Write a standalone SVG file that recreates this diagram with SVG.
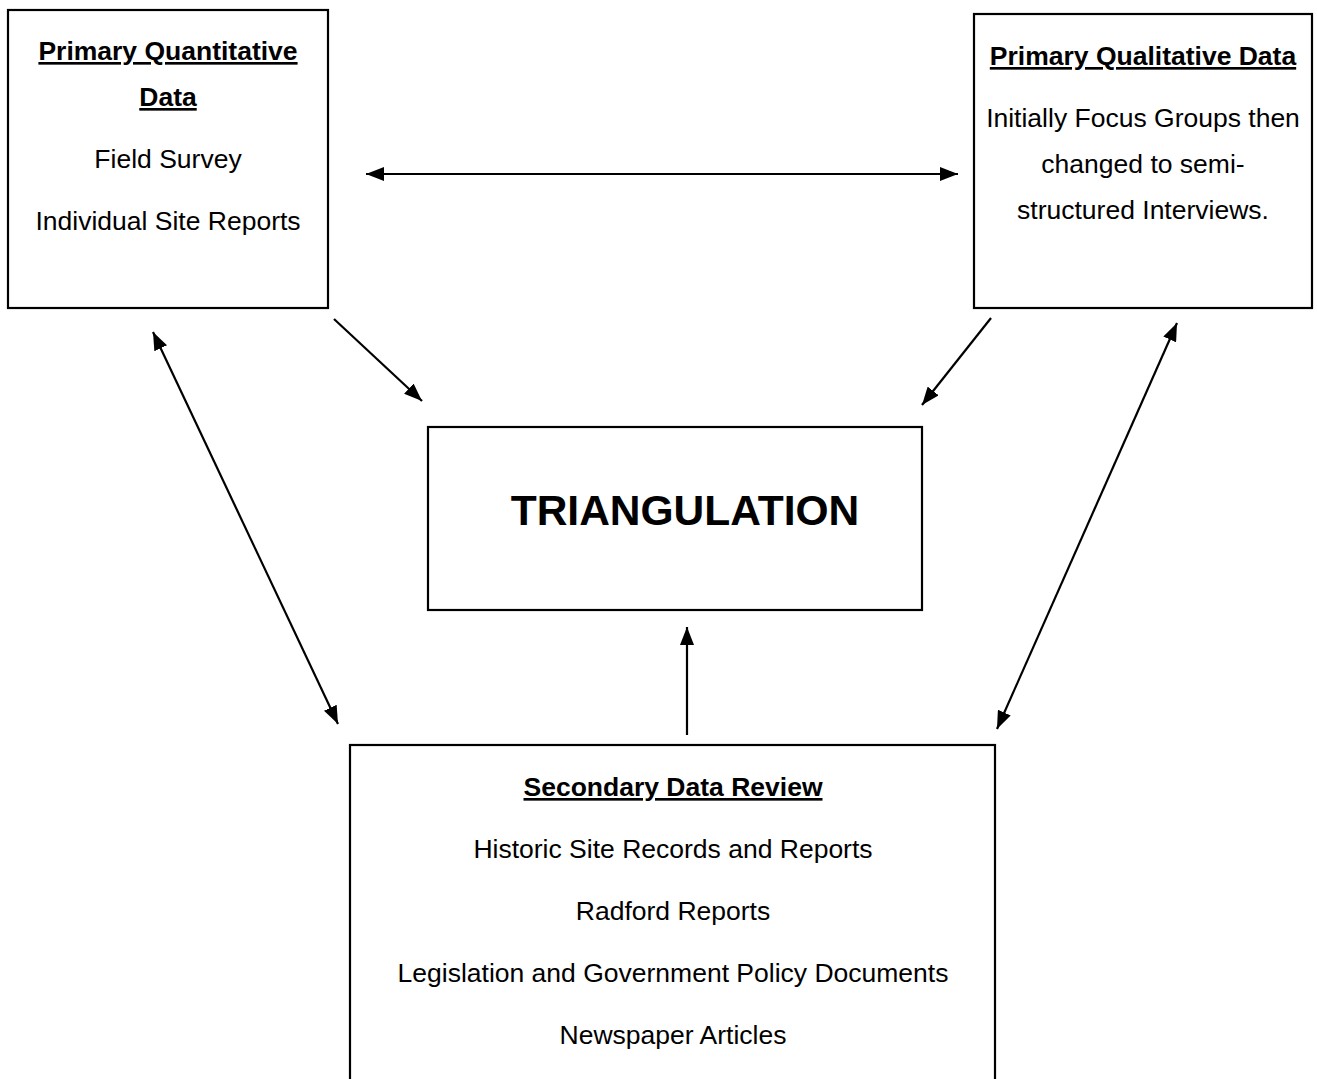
<svg xmlns="http://www.w3.org/2000/svg" width="1317" height="1079" viewBox="0 0 1317 1079">
  <style>
    .box { fill: #fff; stroke: #000; stroke-width: 2.2; }
    .t { font-family: "Liberation Sans", Arial, sans-serif; font-size: 26.5px; fill: #000; text-anchor: middle; }
    .h { font-weight: bold; text-decoration: underline; }
    .big { font-family: "Liberation Sans", Arial, sans-serif; font-size: 42.5px; font-weight: bold; fill: #000; text-anchor: middle; }
    .conn { stroke: #000; stroke-width: 2.2; fill: none; }
  </style>
  <defs>
    <marker id="arrow" viewBox="0 0 18 14" refX="18" refY="7" markerWidth="18" markerHeight="14" markerUnits="userSpaceOnUse" orient="auto-start-reverse">
      <path d="M0,0 L18,7 L0,14 Z" fill="#000"/>
    </marker>
  </defs>
  <rect width="1317" height="1079" fill="#fff"/>

  <g id="quantitative">
    <rect class="box" x="8" y="10" width="320" height="298"/>
    <text class="t h" x="168" y="60">Primary Quantitative</text>
    <text class="t h" x="168" y="106">Data</text>
    <text class="t" x="168" y="168">Field Survey</text>
    <text class="t" x="168" y="230">Individual Site Reports</text>
  </g>

  <g id="qualitative">
    <rect class="box" x="974" y="14" width="338" height="294"/>
    <text class="t h" x="1143" y="65">Primary Qualitative Data</text>
    <text class="t" x="1143" y="127">Initially Focus Groups then</text>
    <text class="t" x="1143" y="173">changed to semi-</text>
    <text class="t" x="1143" y="219">structured Interviews.</text>
  </g>

  <g id="triangulation">
    <rect class="box" x="428" y="427" width="494" height="183"/>
    <text class="big" x="685" y="525">TRIANGULATION</text>
  </g>

  <g id="secondary">
    <rect class="box" x="350" y="745" width="645" height="345"/>
    <text class="t h" x="673" y="796">Secondary Data Review</text>
    <text class="t" x="673" y="858">Historic Site Records and Reports</text>
    <text class="t" x="673" y="920">Radford Reports</text>
    <text class="t" x="673" y="982">Legislation and Government Policy Documents</text>
    <text class="t" x="673" y="1044">Newspaper Articles</text>
  </g>

  <g id="connectors">
    <line class="conn" x1="366" y1="174" x2="958" y2="174" marker-start="url(#arrow)" marker-end="url(#arrow)"/>
    <line class="conn" x1="334" y1="319" x2="422" y2="401" marker-end="url(#arrow)"/>
    <line class="conn" x1="991" y1="318" x2="922" y2="405" marker-end="url(#arrow)"/>
    <line class="conn" x1="153" y1="332" x2="338" y2="724" marker-start="url(#arrow)" marker-end="url(#arrow)"/>
    <line class="conn" x1="1177" y1="323" x2="997" y2="729" marker-start="url(#arrow)" marker-end="url(#arrow)"/>
    <line class="conn" x1="687" y1="735" x2="687" y2="627" marker-end="url(#arrow)"/>
  </g>
</svg>
